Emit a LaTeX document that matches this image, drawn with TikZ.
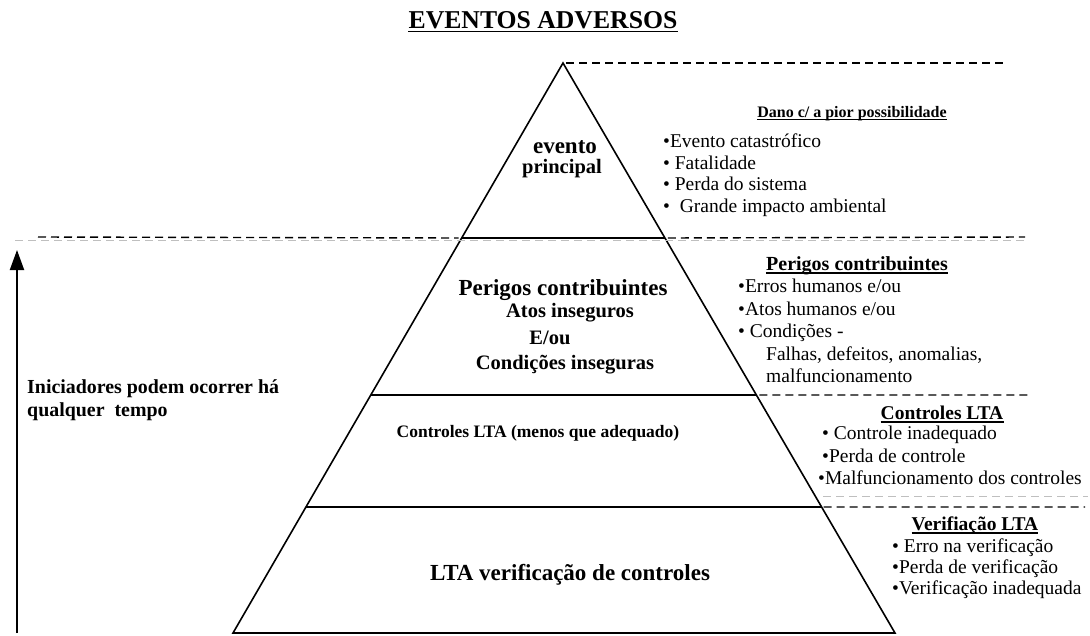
\documentclass[tikz,border=0pt]{standalone}
\usepackage{fontspec}
\setmainfont{Liberation Serif}
\usetikzlibrary{arrows.meta,calc}
\begin{document}
\begin{tikzpicture}[x=1pt,y=-1pt,
  pyr/.style={line width=1.6pt},
  dsh/.style={line width=1.4pt, dash pattern=on 8pt off 5pt},
  gdsh/.style={line width=0.9pt, black!25, dash pattern=on 8pt off 5pt},
  ctr/.style={inner sep=0pt, anchor=center},
  item/.style={inner sep=0pt, anchor=base west, font=\fontsize{19.5}{22}\selectfont},
  hd/.style={inner sep=0pt, anchor=base, font=\fontsize{19.5}{22}\selectfont\bfseries},
  uline/.style={line width=1.2pt}
]
\useasboundingbox (0,0) rectangle (1090,635);
% pyramid
\coordinate (apex) at (563,63);
\coordinate (bl) at (233,633);
\coordinate (br) at (895,633);
\coordinate (l1) at ($(apex)!0.307!(bl)$);
\coordinate (r1) at ($(apex)!0.307!(br)$);
\coordinate (l2) at ($(apex)!0.5825!(bl)$);
\coordinate (r2) at ($(apex)!0.5825!(br)$);
\coordinate (l3) at ($(apex)!0.779!(bl)$);
\coordinate (r3) at ($(apex)!0.779!(br)$);
\draw[pyr] (bl) -- (apex) -- (br) -- cycle;
\draw[pyr] (l1) -- (r1);
\draw[pyr] (l2) -- (r2);
\draw[pyr] (l3) -- (r3);

% dashed guide lines
\coordinate (d1e) at (1003,63);
\coordinate (g2s) at (15,240);
\coordinate (g2e) at (1025,240);
\coordinate (d2s) at (38,237);
\coordinate (d2e) at (1025,237);
\coordinate (d3e) at (1032,395);
\coordinate (g4s) at (823,496);
\coordinate (g4e) at (1088,496);
\coordinate (d4e) at (1085,507);
\draw[gdsh] (g2s) -- (g2e);
\draw[gdsh] (g4s) -- (g4e);
\draw[dsh] ([xshift=3pt]apex) -- (d1e);
\draw[dsh] (d2s) -- ([xshift=-3pt]l1);
\draw[dsh] ([xshift=3pt]r1) -- (d2e);
\draw[dsh] ([xshift=3pt]r2) -- (d3e);
\draw[dsh] ([xshift=2pt]r3) -- (d4e);

% arrow
\coordinate (arrbot) at (17,633);
\coordinate (arrtop) at (17,250);
\draw[line width=2pt,-{Triangle[length=20pt,width=14pt]}] (arrbot) -- (arrtop);

% title
\node[inner sep=0pt, anchor=base, font=\fontsize{25.7}{28}\selectfont\bfseries] (title) at (543,28.5) {EVENTOS ADVERSOS};
\draw[uline, line width=1.6pt] ([yshift=-3pt]title.base west) -- ([yshift=-3pt]title.base east);

% pyramid labels
\node[ctr, font=\fontsize{23}{26}\selectfont\bfseries] (evento) at (565,147) {evento};
\node[ctr, font=\fontsize{20.5}{23}\selectfont\bfseries] (principal) at (562,169) {principal};
\node[ctr, font=\fontsize{23}{26}\selectfont\bfseries] (perigos) at (563,290) {Perigos contribuintes};
\node[ctr, font=\fontsize{20.5}{23}\selectfont\bfseries] (atos) at (570,313) {Atos inseguros};
\node[ctr, font=\fontsize{20.5}{23}\selectfont\bfseries] (eou) at (550,338) {E/ou};
\node[ctr, font=\fontsize{20.5}{23}\selectfont\bfseries] (condins) at (565,365) {Condições inseguras};
\node[ctr, font=\fontsize{17.5}{20}\selectfont\bfseries] (ctrlta) at (538,433) {Controles LTA (menos que adequado)};
\node[ctr, font=\fontsize{23}{26}\selectfont\bfseries] (ltaver) at (570,575) {LTA verificação de controles};

% left text
\node[inner sep=0pt, anchor=base west, font=\fontsize{19.9}{22}\selectfont\bfseries] (inic1) at (27,393) {Iniciadores podem ocorrer há};
\node[inner sep=0pt, anchor=base west, font=\fontsize{19.9}{22}\selectfont\bfseries] (inic2) at (27,416) {qualquer~ tempo};

% list 1
\node[hd, font=\fontsize{16}{18}\selectfont\bfseries] (dano) at (852,117) {Dano c/ a pior possibilidade\ };
\draw[uline, line width=1pt] ([yshift=-2pt]dano.base west) -- ([yshift=-2pt]dano.base east);
\node[item] (a1) at (663,147) {•Evento catastrófico};
\node[item] (a2) at (663,169) {• Fatalidade};
\node[item] (a3) at (663,190) {• Perda do sistema};
\node[item] (a4) at (663,212) {•\ \ Grande impacto ambiental};

% list 2
\node[hd, font=\fontsize{20}{22}\selectfont\bfseries] (perh) at (857,270) {Perigos contribuintes};
\draw[uline] ([yshift=-3pt]perh.base west) -- ([yshift=-3pt]perh.base east);
\node[item] (b1) at (738,292) {•Erros humanos e/ou};
\node[item] (b2) at (738,315) {•Atos humanos e/ou};
\node[item] (b3) at (738,337) {• Condições -};
\node[item] (b4) at (766,360) {Falhas, defeitos, anomalias,};
\node[item] (b5) at (766,382) {malfuncionamento};

% list 3
\node[hd] (ctrh) at (942,419) {Controles LTA};
\draw[uline] ([yshift=-3pt]ctrh.base west) -- ([yshift=-3pt]ctrh.base east);
\node[item] (c1) at (822,439) {• Controle inadequado};
\node[item] (c2) at (822,462) {•Perda de controle};
\node[item] (c3) at (818,484) {•Malfuncionamento dos controles};

% list 4
\node[hd] (verh) at (975,530) {Verifiação LTA};
\draw[uline] ([yshift=-3pt]verh.base west) -- ([yshift=-3pt]verh.base east);
\node[item] (e1) at (892,552) {• Erro na verificação};
\node[item] (e2) at (892,573) {•Perda de verificação};
\node[item] (e3) at (892,594) {•Verificação inadequada};
\end{tikzpicture}
\end{document}
